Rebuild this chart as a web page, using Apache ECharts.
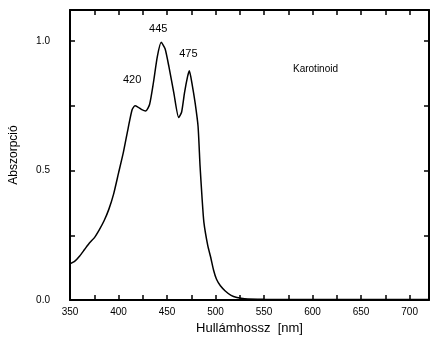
<!DOCTYPE html>
<html>
<head>
<meta charset="utf-8">
<script src="https://cdn.jsdelivr.net/npm/echarts@6/dist/echarts.min.js"></script>
<style>
  html, body { margin: 0; padding: 0; background: #fff; }
  #chart { width: 432px; height: 348px; }
</style>
</head>
<body>
<div id="chart"></div>
<script>
// Absorption spectrum of a carotenoid (wavelength in nm, absorbance)
const wavelengths = [350, 355, 360, 365, 370, 375, 380, 385, 390, 395, 400, 405, 410, 414, 417, 420, 424, 428, 432, 436, 440, 444, 448, 452, 457, 462, 465, 468, 471, 473, 476, 479, 482, 484, 486, 488, 492, 495, 498, 501, 505, 510, 516, 522, 530, 550, 600, 650, 700, 720];
const absorbance  = [0.14, 0.15, 0.17, 0.195, 0.22, 0.24, 0.27, 0.305, 0.35, 0.41, 0.49, 0.57, 0.665, 0.735, 0.75, 0.745, 0.735, 0.73, 0.755, 0.84, 0.94, 0.995, 0.97, 0.90, 0.80, 0.705, 0.725, 0.80, 0.86, 0.885, 0.83, 0.76, 0.67, 0.52, 0.40, 0.30, 0.21, 0.165, 0.115, 0.08, 0.055, 0.035, 0.018, 0.01, 0.005, 0.003, 0.002, 0.002, 0.002, 0.002];

// Peak annotations: wavelength text and where it sits (nm, absorbance)
const peakLabels = ['420', '445', '475'];
const peakLabelAt = [[414, 0.85], [441, 1.045], [472, 0.95]];

const xTickLabels = ['350', '400', '450', '500', '550', '600', '650', '700'];
const compoundName = 'Karotinoid';

const FONT = 'Liberation Sans, Arial, sans-serif';
const chart = echarts.init(document.getElementById('chart'));

const baseX = {
  type: 'value', min: 350, max: 720, interval: 50,
  axisLine: { show: true, onZero: false, lineStyle: { color: '#000', width: 2 } },
  axisTick: { show: true, inside: true, length: 5, lineStyle: { color: '#000', width: 1.5 } },
  minorTick: { show: true, splitNumber: 2, length: 5, lineStyle: { color: '#000', width: 1.5 } },
  splitLine: { show: false }
};
const baseY = {
  type: 'value', min: 0, max: 1.12, interval: 0.5,
  axisLine: { show: true, onZero: false, lineStyle: { color: '#000', width: 2 } },
  axisTick: { show: true, inside: true, length: 5, lineStyle: { color: '#000', width: 1.5 } },
  minorTick: { show: true, splitNumber: 2, length: 5, lineStyle: { color: '#000', width: 1.5 } },
  splitLine: { show: false }
};

chart.setOption({
  animation: false,
  backgroundColor: '#fff',
  grid: { left: 67, top: 10, right: 3, bottom: 48 },
  xAxis: [
    Object.assign({}, baseX, {
      position: 'bottom',
      name: 'Hullámhossz  [nm]', nameLocation: 'middle', nameGap: 20,
      nameTextStyle: { fontFamily: FONT, fontSize: 13, color: '#000' },
      axisLabel: {
        show: true, margin: 7, fontFamily: FONT, fontSize: 10, color: '#000',
        showMaxLabel: false,
        formatter: v => xTickLabels.includes(String(v)) ? String(v) : ''
      }
    }),
    Object.assign({}, baseX, { position: 'top', axisLabel: { show: false } })
  ],
  yAxis: [
    Object.assign({}, baseY, {
      position: 'left',
      name: 'Abszorpció', nameLocation: 'middle', nameGap: 50,
      nameTextStyle: { fontFamily: FONT, fontSize: 12, color: '#000' },
      axisLabel: {
        show: true, margin: 20, fontFamily: FONT, fontSize: 10, color: '#000',
        showMaxLabel: false,
        formatter: v => v.toFixed(1)
      }
    }),
    Object.assign({}, baseY, { position: 'right', axisLabel: { show: false } })
  ],
  series: [{
    type: 'line',
    data: wavelengths.map((w, i) => [w, absorbance[i]]),
    showSymbol: false,
    smooth: 0.2,
    lineStyle: { color: '#000', width: 1.5 },
    markPoint: {
      symbol: 'circle', symbolSize: 0,
      label: { show: true, position: 'inside', fontFamily: FONT, fontSize: 11, color: '#000' },
      data: peakLabels.map((t, i) => ({
        coord: peakLabelAt[i],
        label: { formatter: t }
      }))
    }
  }],
  graphic: [{
    type: 'text', left: 293, top: 64,
    style: { text: compoundName, fontFamily: FONT, fontSize: 10, fill: '#000' }
  }]
});
</script>
</body>
</html>
